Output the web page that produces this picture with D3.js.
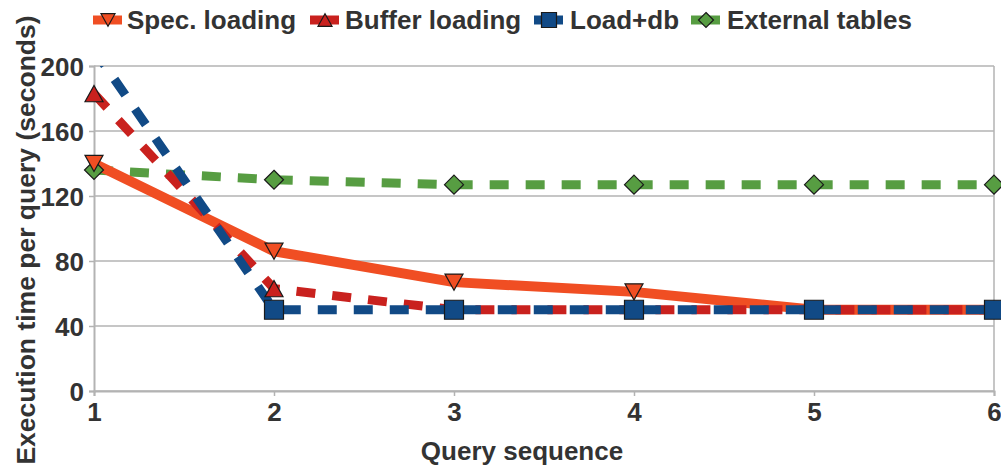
<!DOCTYPE html>
<html><head><meta charset="utf-8">
<script src="https://cdn.jsdelivr.net/npm/d3@7"></script>
<style>body{margin:0;background:#fff}svg{display:block}text{font-family:"Liberation Sans",Arial,sans-serif;font-weight:bold;fill:#333}</style>
</head><body><svg id="c" width="1001" height="468"></svg>
<script>
const queries = [1, 2, 3, 4, 5, 6];
const specLoading = [140, 86, 67, 61, 50, 50];
const bufferLoading = [183, 63, 50, 50, 50, 50];
const loadDb = [210, 50, 50, 50, 50, 50];
const externalTables = [136, 130, 127, 127, 127, 127];
const yTicks = [0, 40, 80, 120, 160, 200];
const seriesNames = ["Spec. loading", "Buffer loading", "Load+db", "External tables"];

const series = [
  {name: seriesNames[0], values: specLoading, color: "#f04e23", width: 10, dash: null, marker: "tdown"},
  {name: seriesNames[1], values: bufferLoading, color: "#c9211e", width: 9, dash: "19,17", marker: "tup"},
  {name: seriesNames[2], values: loadDb, color: "#114a86", width: 9, dash: "19,17", marker: "square"},
  {name: seriesNames[3], values: externalTables, color: "#579d42", width: 9, dash: "19,17", marker: "diamond"}
];

const FS = 26;
const svg = d3.select("#c");
const m = {l: 94, r: 994, t: 66, b: 391};
const x = d3.scaleLinear().domain([1, 6]).range([m.l, m.r]);
const y = d3.scaleLinear().domain([0, 200]).range([m.b, m.t]);

// grid
svg.append("g").selectAll("line").data(yTicks).join("line")
  .attr("x1", m.l).attr("x2", m.r).attr("y1", d => y(d)).attr("y2", d => y(d))
  .attr("stroke", "#b3b3b3").attr("stroke-width", 1.5);
svg.append("line").attr("x1", m.r).attr("x2", m.r).attr("y1", m.t).attr("y2", m.b)
  .attr("stroke", "#b3b3b3").attr("stroke-width", 1.5);

// axes
const yAxis = svg.append("g").attr("transform", `translate(${m.l},0)`)
  .call(d3.axisLeft(y).tickValues(yTicks).tickSize(5).tickPadding(5));
const xAxis = svg.append("g").attr("transform", `translate(0,${m.b})`)
  .call(d3.axisBottom(x).tickValues(queries).tickFormat(d3.format("d")).tickSize(5).tickPadding(7));
[yAxis, xAxis].forEach(a => {
  a.select(".domain").attr("stroke", "#b3b3b3").attr("stroke-width", 2);
  a.selectAll(".tick line").attr("stroke", "#b3b3b3").attr("stroke-width", 1.5);
  a.selectAll("text").attr("font-size", FS).attr("fill", "#333").style("font-family", "'Liberation Sans',Arial,sans-serif").style("font-weight", "bold");
});
yAxis.selectAll(".tick text").attr("dy", "0.36em");

svg.append("defs").append("clipPath").attr("id", "clip").append("rect")
  .attr("x", m.l - 20).attr("y", m.t).attr("width", m.r - m.l + 40).attr("height", m.b - m.t + 20);

const line = d3.line().x((d, i) => x(queries[i])).y(d => y(d));
const plot = svg.append("g").attr("clip-path", "url(#clip)");

function markerPath(type, s) {
  if (type === "tdown") return `M${-s},${-s*0.9}L${s},${-s*0.9}L0,${s*0.9}Z`;
  if (type === "tup") return `M${-s},${s*0.9}L${s},${s*0.9}L0,${-s*0.9}Z`;
  if (type === "square") return `M${-s},${-s}L${s},${-s}L${s},${s}L${-s},${s}Z`;
  return `M0,${-s}L${s},0L0,${s}L${-s},0Z`;
}
const sizes = {tdown: 9, tup: 9, square: 9.5, diamond: 9.5};

const order = [3, 0, 1, 2];
order.forEach(k => {
  const s = series[k];
  plot.append("path").datum(s.values).attr("d", line)
    .attr("fill", "none").attr("stroke", s.color).attr("stroke-width", s.width)
    .attr("stroke-dasharray", s.dash).attr("stroke-linejoin", "round");
});
order.forEach(k => {
  const s = series[k];
  const pts = s.values.map((v, i) => ({q: queries[i], v})).filter(p => p.v <= 200);
  plot.selectAll(null).data(pts).join("path")
    .attr("transform", p => `translate(${x(p.q)},${y(p.v)})`)
    .attr("d", markerPath(s.marker, sizes[s.marker]))
    .attr("fill", s.color).attr("stroke", "#1a1a1a").attr("stroke-width", 1.2);
});

// legend
const legendPos = [{lx: 93, tx: 127}, {lx: 310, tx: 345}, {lx: 534, tx: 570}, {lx: 691, tx: 727}];
series.forEach((s, k) => {
  const p = legendPos[k];
  const g = svg.append("g");
  g.append("line").attr("x1", p.lx).attr("x2", p.lx + 29).attr("y1", 20).attr("y2", 20)
    .attr("stroke", s.color).attr("stroke-width", 9);
  g.append("path").attr("transform", `translate(${p.lx + 15},20)`)
    .attr("d", markerPath(s.marker, sizes[s.marker] - 2))
    .attr("fill", s.color).attr("stroke", "#1a1a1a").attr("stroke-width", 1.2);
  g.append("text").attr("x", p.tx).attr("y", 29).attr("font-size", FS).text(s.name);
});

svg.append("text").attr("x", 522).attr("y", 460).attr("text-anchor", "middle")
  .attr("font-size", FS).text("Query sequence");
svg.append("text").attr("transform", `translate(35,240) rotate(-90)`)
  .attr("text-anchor", "middle").attr("font-size", 26.5).text("Execution time per query (seconds)");
</script></body></html>
